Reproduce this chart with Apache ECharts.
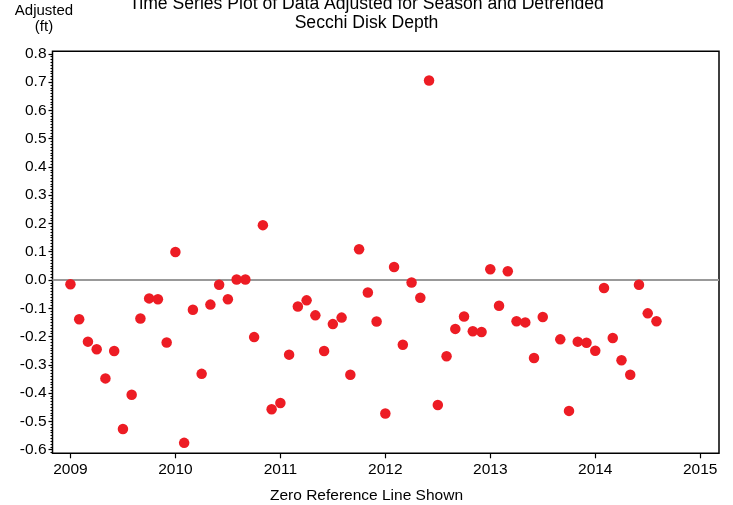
<!DOCTYPE html>
<html>
<head>
<meta charset="utf-8">
<script src="https://cdn.jsdelivr.net/npm/echarts@6/dist/echarts.min.js"></script>
<style>
html,body{margin:0;padding:0;background:#fff;}
#c{width:733px;height:505px;}
</style>
</head>
<body>
<div id="c"></div>
<script>
// Sample months (YYYY-MM) and season-adjusted, detrended Secchi depth (ft)
const months = [
  '2009-01','2009-02','2009-03','2009-04','2009-05','2009-06','2009-07','2009-08','2009-09','2009-10','2009-11','2009-12',
  '2010-01','2010-02','2010-03','2010-04','2010-05','2010-06','2010-07','2010-08','2010-09','2010-10','2010-11','2010-12',
  '2011-01','2011-02','2011-03','2011-04','2011-05','2011-06','2011-07','2011-08','2011-09','2011-10','2011-11','2011-12',
  '2012-01','2012-02','2012-03','2012-04','2012-05','2012-06','2012-07','2012-08','2012-09','2012-10','2012-11','2012-12',
  '2013-01','2013-02','2013-03','2013-04','2013-05','2013-06','2013-07','2013-09','2013-10','2013-11','2013-12',
  '2014-01','2014-02','2014-03','2014-04','2014-05','2014-06','2014-07','2014-08'
];
const adjusted = [
  -0.015,-0.139,-0.218,-0.245,-0.348,-0.251,-0.527,-0.406,-0.136,-0.065,-0.068,-0.221,
   0.099,-0.576,-0.105,-0.332,-0.087,-0.017,-0.068, 0.002, 0.002,-0.202, 0.194,-0.457,
  -0.435,-0.264,-0.094,-0.072,-0.125,-0.251,-0.156,-0.133,-0.335, 0.109,-0.044,-0.147,
  -0.472, 0.046,-0.229,-0.009,-0.063, 0.706,-0.442,-0.270,-0.173,-0.129,-0.181,-0.184,
   0.038,-0.091, 0.031,-0.146,-0.150,-0.276,-0.131,-0.210,-0.463,-0.218,-0.222,
  -0.250,-0.028,-0.205,-0.284,-0.335,-0.017,-0.118,-0.146
];
const xTickLabels = [2009, 2010, 2011, 2012, 2013, 2014, 2015];
const yTickLabels = [-0.6, -0.5, -0.4, -0.3, -0.2, -0.1, 0.0, 0.1, 0.2, 0.3, 0.4, 0.5, 0.6, 0.7, 0.8];

const yMinor = [];
for (let i = -61; i <= 80; i++) yMinor.push(i / 100);

function toYear(m) {
  const [y, mo] = m.split('-').map(Number);
  return y + (mo - 1) / 12;
}
const points = months.map((m, i) => [toYear(m), adjusted[i]]);

const FONT = '"Liberation Sans", Arial, sans-serif';
const chart = echarts.init(document.getElementById('c'), null, {renderer: 'canvas'});
const YMIN = -0.613, YMAX = 0.809;

chart.setOption({
  animation: false,
  backgroundColor: '#fff',
  textStyle: {fontFamily: FONT},
  title: [
    {
      text: 'Time Series Plot of Data Adjusted for Season and Detrended\nSecchi Disk Depth',
      left: 'center', top: -10,
      textStyle: {fontSize: 17.6, fontWeight: 'normal', color: '#000', lineHeight: 19, fontFamily: FONT}
    },
    {
      text: 'Zero Reference Line Shown',
      left: 'center', top: 483,
      textStyle: {fontSize: 15.5, fontWeight: 'normal', color: '#000', fontFamily: FONT}
    }
  ],
  graphic: [{
    type: 'text', x: 44, y: 19,
    style: {text: 'Adjusted\n(ft)', fontSize: 15, lineHeight: 16, fontFamily: FONT, fill: '#000',
            align: 'center', verticalAlign: 'middle'}
  }],
  grid: {
    left: 52.5, right: 14, top: 51.3, bottom: 51.7,
    show: true, borderColor: '#000', borderWidth: 1.5, backgroundColor: '#fff'
  },
  xAxis: {
    type: 'value', min: 2008.829, max: 2015.179, position: 'bottom',
    axisLine: {show: false, onZero: false},
    splitLine: {show: false},
    axisTick: {show: true, customValues: xTickLabels, length: 5, lineStyle: {color: '#000', width: 1.2}},
    axisLabel: {customValues: xTickLabels, fontSize: 15.5, color: '#000', margin: 8, fontFamily: FONT,
                formatter: v => String(Math.round(v))}
  },
  yAxis: [
    {
      type: 'value', min: YMIN, max: YMAX,
      axisLine: {show: false, onZero: false},
      splitLine: {show: false},
      axisTick: {show: true, customValues: yTickLabels, length: 4, lineStyle: {color: '#000', width: 1.2}},
      axisLabel: {customValues: yTickLabels, fontSize: 15.5, color: '#000', margin: 6, fontFamily: FONT,
                  formatter: v => v.toFixed(1)}
    },
    {
      type: 'value', min: YMIN, max: YMAX, position: 'left',
      axisLine: {show: false, onZero: false},
      splitLine: {show: false},
      axisTick: {show: true, customValues: yMinor, length: 2, lineStyle: {color: '#000', width: 1}},
      axisLabel: {show: false}
    }
  ],
  series: [{
    type: 'scatter',
    data: points,
    symbol: 'circle',
    symbolSize: 10.5,
    itemStyle: {color: '#ED1C24', opacity: 1},
    z: 3,
    markLine: {
      silent: true, symbol: 'none', animation: false,
      label: {show: false},
      lineStyle: {color: '#999999', width: 2, type: 'solid'},
      data: [{yAxis: 0}],
      z: 1
    }
  }]
});
</script>
</body>
</html>
